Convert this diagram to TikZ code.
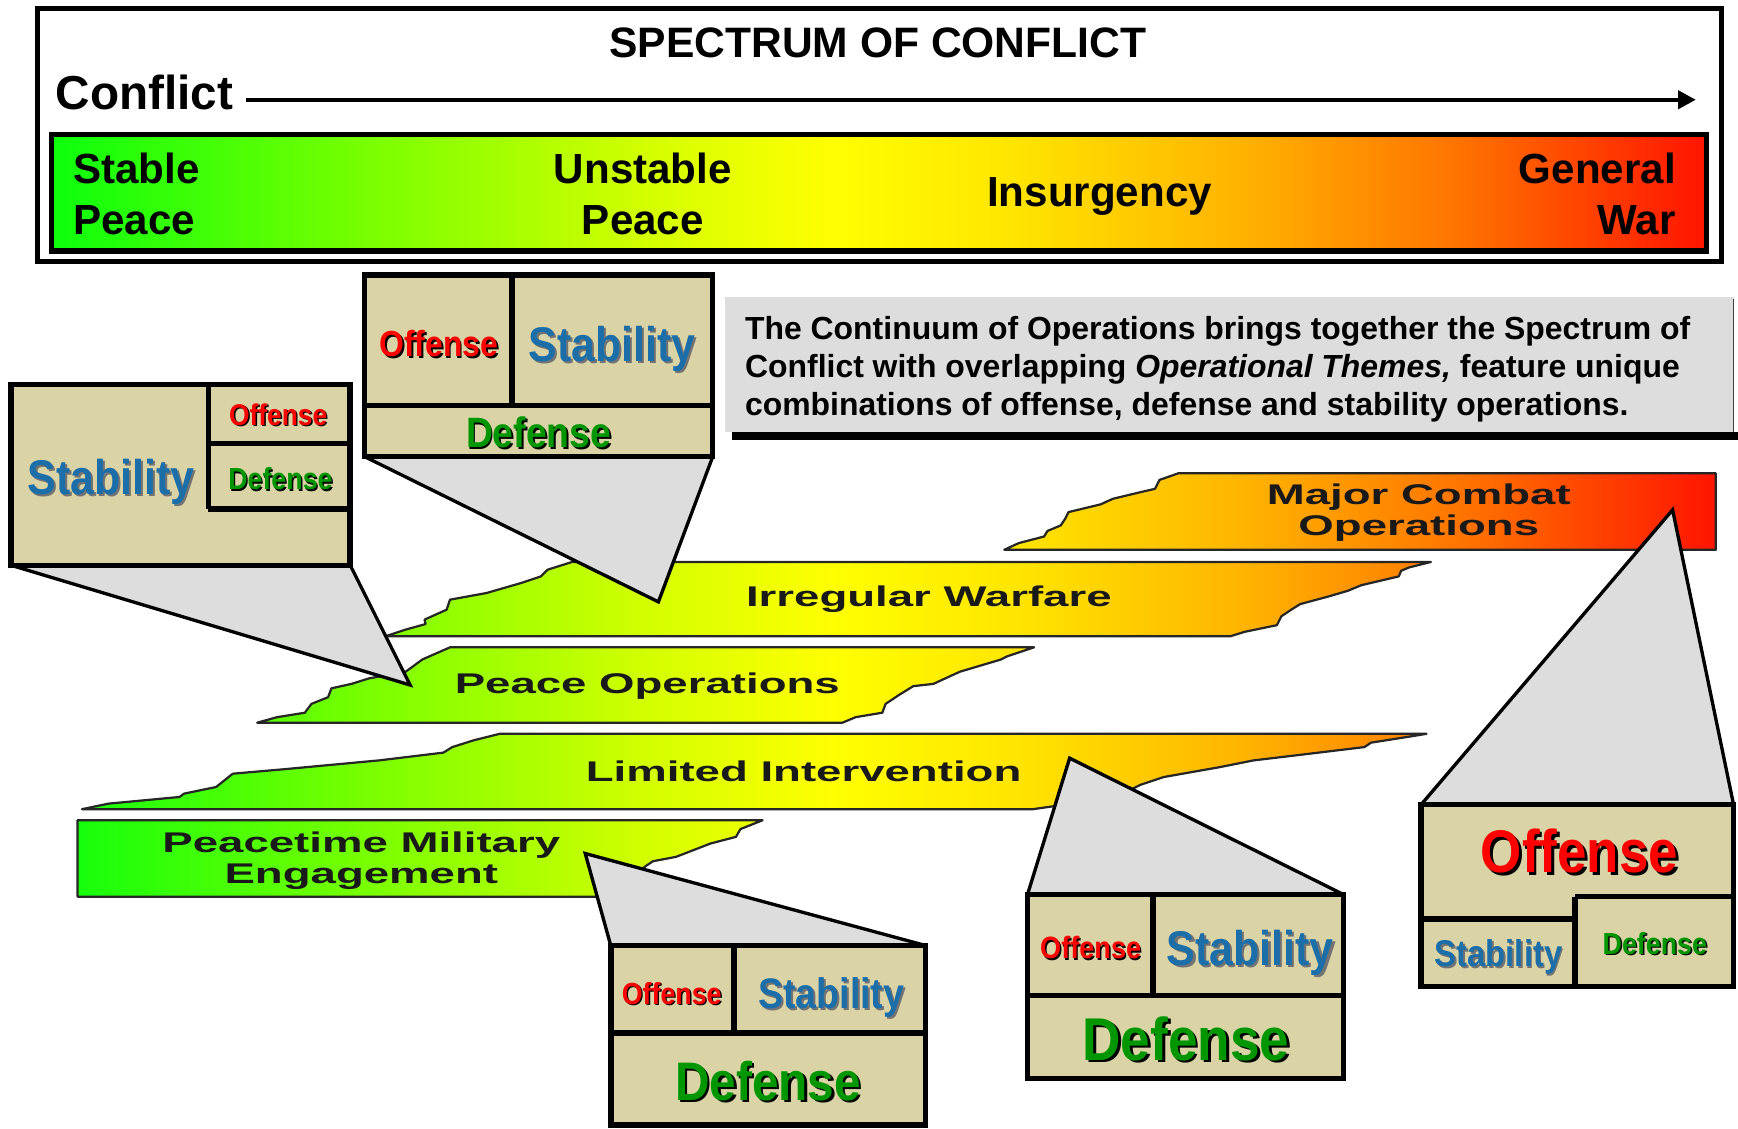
\documentclass[tikz,border=0pt]{standalone}
\usepackage{fontspec}
\setmainfont{Liberation Sans}
\newfontfamily\capfont[FakeStretch=0.88]{Liberation Sans}
\newfontfamily\widefont[FakeStretch=1.6]{Liberation Sans}
\usetikzlibrary{arrows.meta,calc}
\pgfdeclarelayer{back}
\pgfdeclarelayer{mid}
\pgfsetlayers{back,mid,main}
\definecolor{beige}{RGB}{217,211,166}
\definecolor{ptrgray}{RGB}{221,221,221}
\definecolor{boxgray}{RGB}{221,221,221}
\definecolor{offred}{RGB}{255,0,0}
\definecolor{stabblue}{RGB}{28,110,168}
\definecolor{defgreen}{RGB}{0,150,0}
\pgfdeclarehorizontalshading{spec}{100bp}{rgb(0bp)=(0.05,1,0.05); rgb(25bp)=(0.05,1,0.05); rgb(34bp)=(0.45,1,0); rgb(43bp)=(0.83,1,0); rgb(48.5bp)=(1,1,0); rgb(54bp)=(1,0.9,0); rgb(61bp)=(1,0.7,0); rgb(67.5bp)=(1,0.45,0); rgb(75bp)=(1,0.08,0); rgb(100bp)=(1,0.08,0)}
\tikzset{
  band/.style={draw=black!85, line width=2pt, line join=round,
    path picture={\shade[shading=spec] (44,380) rectangle (1548,830);}},
  blbl/.style={anchor=base, inner sep=0pt, text=black!90, font=\widefont\bfseries\fontsize{25.7}{28}\selectfont},
  blbltwo/.style={anchor=center, align=center, inner sep=0pt, text depth=0pt, text=black!90, font=\widefont\bfseries\fontsize{25.7}{28}\selectfont},
  cbox/.style={draw=black, line width=5pt, fill=beige, inner sep=0pt, outer sep=0pt},
  divider/.style={draw=black, line width=5pt},
  ptrfill/.style={fill=ptrgray},
  ptrline/.style={draw=black, line width=3pt, line join=miter},
  ctxt/.style={anchor=base, inner sep=0pt},
  toptxt/.style={inner sep=0pt, text depth=0pt, font=\bfseries\fontsize{38}{46}\selectfont},
}
% #1 name, #2 x, #3 baseline y, #4 colour, #5 size, #6 text, #7 shadow colour
\newcommand\ctext[7]{%
  \node[ctxt, text=#7, font={\capfont\bfseries\fontsize{#5}{#5}\selectfont}] at ($(#2,#3)+({0.045*#5},{0.045*#5})$) {#6};
  \node[ctxt, text=#4, font={\capfont\bfseries\fontsize{#5}{#5}\selectfont}] (#1) at (#2,#3) {#6};}
% #1 box corner 1, #2 tip, #3 box corner 2
\newcommand\pointer[3]{%
  \fill[ptrfill] (#1) -- (#2) -- (#3) -- cycle;
  \draw[ptrline] (#1) -- (#2) -- (#3);}
\begin{document}
\begin{tikzpicture}[x=1pt,y=-1pt]
\useasboundingbox (0,0) rectangle (1568,1018);
% ---------- spectrum of conflict frame ----------
\draw[line width=4.5pt] (34,8) rectangle (1553,236);
\node[anchor=base, inner sep=0pt, font=\bfseries\fontsize{38.4}{38.4}\selectfont] (title) at (792,51.7) {SPECTRUM OF CONFLICT};
\node[anchor=base west, inner sep=0pt, font=\bfseries\fontsize{43}{43}\selectfont] (conflict) at (50,98.4) {Conflict};
\coordinate (arrS) at (222,90);
\coordinate (arrE) at (1530,90);
\draw[line width=4pt, -{Triangle[length=16pt,width=16pt]}] (arrS) -- (arrE);
\node[draw=black, line width=5pt, shade, shading=spec, minimum width=1493pt, minimum height=105pt, inner sep=0pt, outer sep=0pt] (bar) at (793,174) {};
\node[toptxt, align=left, anchor=west] (stable) at (66,175) {Stable\\Peace};
\node[toptxt, align=center] (unstable) at (580,175) {Unstable\\Peace};
\node[anchor=base, inner sep=0pt, font=\bfseries\fontsize{38}{38}\selectfont] (insurg) at (992,186.6) {Insurgency};
\node[toptxt, align=right, anchor=east] (genwar) at (1512,175) {General\\War};
% ---------- explanatory text box ----------
\node[fill=boxgray, minimum width=910pt, minimum height=122pt, inner sep=0pt, outer sep=0pt] (tbox) at (1109,329) {};
\fill[black] ([xshift=6pt]tbox.south west) rectangle ([xshift=4pt,yshift=-7pt]tbox.south east);
\draw[line width=1.5pt, black!75] ([yshift=-2pt]tbox.north east) -- (tbox.south east);
\node[anchor=north west, align=left, inner sep=0pt, font=\bfseries\fontsize{28.8}{34.5}\selectfont] (para) at (672,285) {The Continuum of Operations brings together the Spectrum of\\Conflict with overlapping \textit{Operational Themes,} feature unique\\combinations of offense, defense and stability operations.};
% ---------- operational theme bands ----------
\begin{pgfonlayer}{back}
\draw[band] (1063,427) -- (1548,427) -- (1548,496) -- (906,496) -- (919,490) -- (942,484) -- (945,479) -- (957,474) -- (961,468) -- (964,462) -- (993,455) -- (1004,450) -- (1029,444) -- (1042,441) -- (1046,433) -- cycle;
\draw[band] (516,507) -- (1291,507) -- (1271,512) -- (1264,515) -- (1262,520) -- (1228,528) -- (1216,533) -- (1199,538) -- (1173,545) -- (1165,550) -- (1156,556) -- (1152,564) -- (1123,570) -- (1110,574) -- (348,574) -- (366,568) -- (384,563) -- (383,559) -- (403,550) -- (406,541) -- (439,535) -- (470,526) -- (488,520) -- (494,514) -- cycle;
\draw[band] (406,584) -- (933,584) -- (909,592) -- (903,595) -- (866,606) -- (842,617) -- (824,619) -- (811,627) -- (799,635) -- (796,643) -- (772,647) -- (760,652) -- (232,652) -- (250,647) -- (275,643) -- (281,635) -- (296,629) -- (299,621) -- (317,617) -- (333,612) -- (366,606) -- (381,595) -- (390,591) -- cycle;
\draw[band] (451,662) -- (1287,662) -- (1275,664) -- (1237,670) -- (1231,674) -- (1173,681) -- (1131,686) -- (1101,692) -- (1084,695) -- (1050,701) -- (1029,708) -- (1021,712) -- (985,720) -- (953,727) -- (932,730) -- (74,730) -- (98,725) -- (162,719) -- (166,716) -- (195,710) -- (210,698) -- (256,694) -- (342,686) -- (400,679) -- (408,674) -- (427,668) -- cycle;
\draw[band] (70,740) -- (688,740) -- (668,748) -- (664,755) -- (641,761) -- (610,773) -- (589,777) -- (583,781) -- (560,800) -- (545,809) -- (70,809) -- cycle;
\node[blbltwo] (mcol) at (1280,459.6) {Major Combat\\Operations};
\node[blbl] (iwl) at (838,547) {Irregular Warfare};
\node[blbl] (pol) at (584,626) {Peace Operations};
\node[blbl] (lil) at (725,705) {Limited Intervention};
\node[blbltwo] (pmel) at (326,773.6) {Peacetime Military\\Engagement};
\end{pgfonlayer}
% ---------- callout boxes ----------
\node[cbox, minimum width=306pt, minimum height=163pt] (boxA) at (163,428.5) {};
\node[cbox, minimum width=314pt, minimum height=164pt] (boxB) at (486,330) {};
\node[cbox, minimum width=284pt, minimum height=162pt] (boxC) at (693,934) {};
\node[cbox, minimum width=285pt, minimum height=166pt] (boxD) at (1069.5,890) {};
\node[cbox, minimum width=282pt, minimum height=164pt] (boxE) at (1423,808) {};
% dividers
\draw[divider] (188,347) -- (188,459);
\draw[divider] (188,400) -- (316,400);
\draw[divider] (188,459) -- (316,459);
\draw[divider] (462,248) -- (462,366);
\draw[divider] (329,366) -- (643,366);
\draw[divider] (662,853) -- (662,932);
\draw[divider] (551,932) -- (835,932);
\draw[divider] (1040,807) -- (1040,898);
\draw[divider] (927,898) -- (1212,898);
\draw[divider] (1282,829) -- (1421,829);
\draw[divider] (1421,809) -- (1421,890);
\draw[divider] (1421,809) -- (1564,809);
% pointers
\coordinate (tA) at (370,618);
\coordinate (tB) at (594,543);
\coordinate (tC) at (528,770);
\coordinate (tD) at (965,684);
\coordinate (tE) at (1509,460);
\begin{pgfonlayer}{mid}
\pointer{boxA.south west}{tA}{boxA.south east}
\pointer{boxB.south west}{tB}{boxB.south east}
\pointer{boxC.north west}{tC}{boxC.north east}
\pointer{boxD.north west}{tD}{boxD.north east}
\pointer{boxE.north west}{tE}{boxE.north east}
\end{pgfonlayer}
% callout texts
\ctext{aS}{100}{445.8}{stabblue}{44}{Stability}{black!55}
\ctext{aO}{251}{383.7}{offred}{27}{Offense}{black}
\ctext{aD}{253}{441.8}{defgreen}{27.5}{Defense}{black}
\ctext{bO}{396}{321.7}{offred}{32.7}{Offense}{black}
\ctext{bS}{552}{325.7}{stabblue}{43.9}{Stability}{black!55}
\ctext{bD}{486}{403.7}{defgreen}{38.3}{Defense}{black}
\ctext{cO}{606}{905.8}{offred}{27.5}{Offense}{black}
\ctext{cS}{750}{909.8}{stabblue}{38.5}{Stability}{black!55}
\ctext{cD}{693}{992.5}{defgreen}{49}{Defense}{black}
\ctext{dO}{984}{865}{offred}{27.8}{Offense}{black}
\ctext{dS}{1128}{870.8}{stabblue}{44}{Stability}{black!55}
\ctext{dD}{1070}{956.5}{defgreen}{54.5}{Defense}{black}
\ctext{eO}{1425}{787.4}{offred}{54.3}{Offense}{black}
\ctext{eS}{1352}{872}{stabblue}{33.6}{Stability}{black!55}
\ctext{eD}{1493}{860.8}{defgreen}{27.5}{Defense}{black}
\end{tikzpicture}
\end{document}
